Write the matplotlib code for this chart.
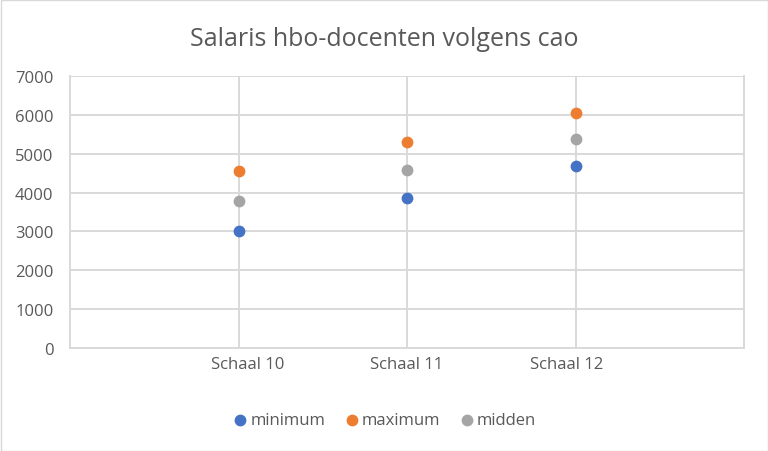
import matplotlib.pyplot as plt
from matplotlib.patches import Rectangle
from matplotlib.transforms import ScaledTranslation

plt.rcParams['font.family'] = ['Open Sans', 'DejaVu Sans']

categories = ['Schaal 10', 'Schaal 11', 'Schaal 12']
minimum = [3010, 3860, 4690]
maximum = [4565, 5315, 6060]
midden = [3788, 4588, 5375]

series = [
    ('minimum', minimum, '#4472C4'),
    ('maximum', maximum, '#ED7D31'),
    ('midden', midden, '#A5A5A5'),
]

text_color = '#595959'
grid_color = '#D9D9D9'

fig = plt.figure(figsize=(7.68, 4.52), dpi=100)
ax = fig.add_axes([70 / 768, 1 - 348.7 / 452, 674 / 768, 271.4 / 452])

x = list(range(1, len(categories) + 1))
for label, vals, color in series:
    ax.scatter(x, vals, s=72, color=color, label=label, zorder=3, linewidths=0)

ax.set_xlim(0, len(categories) + 1)
ax.set_ylim(0, 7000)
ax.set_yticks(range(0, 7001, 1000))
ax.set_xticks(x)
ax.set_xticklabels(categories)

# gridlines, incl. the one at the right edge
ax.grid(True, color=grid_color, linewidth=1.4, zorder=0)
ax.axvline(len(categories) + 1, color=grid_color, linewidth=1.4, zorder=0, clip_on=False)
for side in ['top', 'right']:
    ax.spines[side].set_visible(False)
for side in ['left', 'bottom']:
    ax.spines[side].set_color(grid_color)
    ax.spines[side].set_linewidth(1.4)

ax.tick_params(axis='both', length=0, colors=text_color, labelsize=12)
ax.tick_params(axis='y', pad=12)
ax.tick_params(axis='x', pad=6)

# the outer category labels sit a bit inward in the original
shifts = [9, 0, -9]
for lbl, dx in zip(ax.get_xticklabels(), shifts):
    lbl.set_transform(lbl.get_transform() + ScaledTranslation(dx / 100, 0, fig.dpi_scale_trans))

fig.text(0.5, 1 - 40 / 452, 'Salaris hbo-docenten volgens cao', ha='center', va='center',
         fontsize=18, color=text_color)

leg = fig.legend(loc='center', bbox_to_anchor=(0.5, 1 - 421 / 452), ncol=3, frameon=False,
                 fontsize=12, handlelength=1.0, handletextpad=0.1, columnspacing=1.1,
                 markerscale=1.0)
for t in leg.get_texts():
    t.set_color(text_color)

fig.patches.append(Rectangle((0.5 / 768, 0.5 / 452), 1 - 1 / 768, 1 - 1 / 452,
                             transform=fig.transFigure, fill=False, edgecolor=grid_color, linewidth=1))

fig.savefig('out.png', dpi=100)
